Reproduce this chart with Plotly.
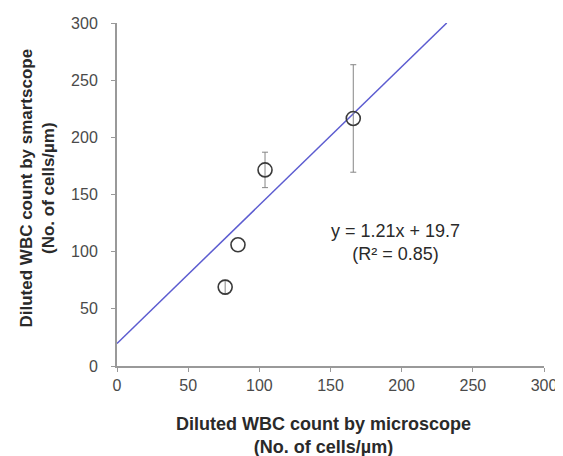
import plotly.graph_objects as go

# Data
micro_x = [76, 85, 104, 166]
scope_y = [69, 106, 171.5, 216.5]
err_y = [6, 0, 15.5, 47]
slope = 1.21
intercept = 19.7
tick_vals = [0, 50, 100, 150, 200, 250, 300]

fit_x = [0, (300 - intercept) / slope]
fit_y = [intercept + slope * v for v in fit_x]

# points that carry an error bar
eb = [(x, y, e) for x, y, e in zip(micro_x, scope_y, err_y) if e > 0]

font_family = "Liberation Sans, Arial, sans-serif"

fig = go.Figure()
fig.add_trace(go.Scatter(
    x=fit_x, y=fit_y, mode="lines",
    line=dict(color="#5c5cd0", width=1.5),
    showlegend=False, hoverinfo="skip"))
fig.add_trace(go.Scatter(
    x=[p[0] for p in eb], y=[p[1] for p in eb], mode="markers",
    marker=dict(size=1, color="rgba(0,0,0,0)"),
    error_y=dict(type="data", array=[p[2] for p in eb], visible=True,
                 color="#858585", thickness=1, width=3),
    showlegend=False, hoverinfo="skip"))
fig.add_trace(go.Scatter(
    x=micro_x, y=scope_y, mode="markers",
    marker=dict(symbol="circle-open", size=14, color="#3a3a3a", line=dict(width=1.6)),
    showlegend=False))

fig.add_annotation(x=196, y=108, xref="x", yref="y",
                   text="y = 1.21x + 19.7<br>(R² = 0.85)", showarrow=False,
                   font=dict(family=font_family, size=18, color="#2a2a2a"), align="center")

# Axis titles
fig.add_annotation(x=0, y=0.5, xref="paper", yref="paper", xanchor="center", yanchor="middle",
                   xshift=-80, yshift=6, textangle=-90, showarrow=False, align="center",
                   text="<b>Diluted WBC count by smartscope<br>(No. of cells/µm)</b>",
                   font=dict(family=font_family, size=17, color="#2a2a2a"))
fig.add_annotation(x=0.5, y=0, xref="paper", yref="paper", xanchor="center", yanchor="top",
                   xshift=-7, yshift=-46, showarrow=False, align="center",
                   text="<b>Diluted WBC count by microscope<br>(No. of cells/µm)</b>",
                   font=dict(family=font_family, size=18, color="#2a2a2a"))

axis_common = dict(
    range=[0, 300], tickvals=tick_vals, showgrid=False, zeroline=False,
    showline=True, linecolor="#999999", linewidth=2, automargin=False,
    ticks="outside", ticklen=4, tickcolor="#999999", tickwidth=1,
    tickfont=dict(family=font_family, size=16, color="#4a4a4a"),
)

fig.update_xaxes(**axis_common)
fig.update_yaxes(**axis_common, ticklabelstandoff=10)

# the page body adds an 8px offset, so the figure is 8px smaller than the window
fig.update_layout(
    width=555, height=448,
    margin=dict(l=109, r=19, t=15, b=90),
    plot_bgcolor="white", paper_bgcolor="white",
)

fig.write_html("out.html")
